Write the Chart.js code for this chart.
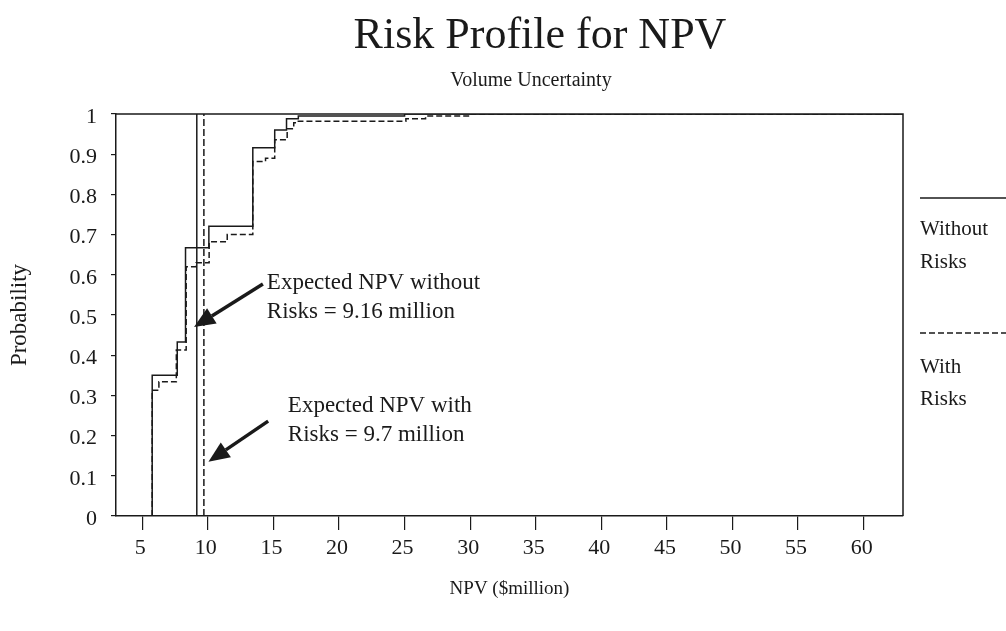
<!DOCTYPE html>
<html>
<head>
<meta charset="utf-8">
<title>Risk Profile for NPV</title>
<script src="https://cdn.jsdelivr.net/npm/chart.js@4.4.1/dist/chart.umd.min.js"></script>
<style>
    html, body { margin: 0; padding: 0; background: #fff; }
    canvas { display: block; }
</style>
</head>
<body>
<canvas id="riskChart" width="1006" height="631"></canvas>
<script>
// cumulative probability steps, NPV in $million
const withoutRiskNpv = [5.76, 5.76, 7.67, 8.3, 10.08, 13.43, 15.1, 16.0, 16.9, 25.0, 63]
const withoutRiskProb = [0, 0.35, 0.433, 0.667, 0.721, 0.916, 0.96, 0.988, 0.995, 1.0, 1.0]

const withRiskNpv = [5.76, 5.76, 6.27, 7.6, 8.35, 9.1, 10.1, 11.48, 13.43, 14.4, 15.1, 16.05, 16.55, 16.9, 25.1, 26.6, 30.0, 63]
const withRiskProb = [0, 0.313, 0.334, 0.413, 0.62, 0.63, 0.682, 0.70, 0.882, 0.89, 0.936, 0.963, 0.978, 0.982, 0.988, 0.995, 1.0, 1.0]

// expected values
const expectedWithout = 9.16
const expectedWith = 9.7

const npvTicks = [5, 10, 15, 20, 25, 30, 35, 40, 45, 50, 55, 60]
const probTicks = [0, 0.1, 0.2, 0.3, 0.4, 0.5, 0.6, 0.7, 0.8, 0.9, 1]

const serif = '"Liberation Serif", "Times New Roman", serif'
const ink = '#1a1a1a'

function toPoints(xs, ys) {
    return xs.map((x, i) => ({ x: x, y: ys[i] }))
}

// frame, titles, notes with arrows and the side legend
const decorations = {
    id: 'decorations',
    afterDraw(chart) {
        const ctx = chart.ctx
        const area = chart.chartArea
        const xs = chart.scales.x
        const ys = chart.scales.y

        ctx.save()
        ctx.strokeStyle = ink
        ctx.lineWidth = 1.5
        ctx.beginPath()
        ctx.moveTo(area.left, area.top)
        ctx.lineTo(area.right, area.top)
        ctx.lineTo(area.right, area.bottom)
        ctx.stroke()

        ctx.fillStyle = ink
        ctx.textAlign = 'center'
        ctx.textBaseline = 'middle'
        ctx.font = '44px ' + serif
        ctx.fillText('Risk Profile for NPV', 540, 36)
        ctx.font = '20px ' + serif
        ctx.fillText('Volume Uncertainty', 531, 81)

        // notes
        ctx.textAlign = 'left'
        ctx.font = '23px ' + serif
        const notes = [
            { lines: ['Expected NPV without', 'Risks = 9.16 million'], x: 14.5, y: 0.58, tail: [14.2, 0.577], tip: [8.95, 0.47] },
            { lines: ['Expected NPV with', 'Risks = 9.7 million'], x: 16.1, y: 0.274, tail: [14.6, 0.236], tip: [10.05, 0.135] }
        ]
        notes.forEach(n => {
            const tx = xs.getPixelForValue(n.x)
            const ty = ys.getPixelForValue(n.y)
            n.lines.forEach((line, i) => ctx.fillText(line, tx, ty + i * 29))

            const x0 = xs.getPixelForValue(n.tail[0])
            const y0 = ys.getPixelForValue(n.tail[1])
            const x1 = xs.getPixelForValue(n.tip[0])
            const y1 = ys.getPixelForValue(n.tip[1])
            const ang = Math.atan2(y1 - y0, x1 - x0)
            const head = 21
            const bx = x1 - head * Math.cos(ang)
            const by = y1 - head * Math.sin(ang)
            ctx.lineWidth = 3.5
            ctx.beginPath()
            ctx.moveTo(x0, y0)
            ctx.lineTo(bx, by)
            ctx.stroke()
            ctx.beginPath()
            ctx.moveTo(x1, y1)
            ctx.lineTo(bx + 9 * Math.sin(ang), by - 9 * Math.cos(ang))
            ctx.lineTo(bx - 9 * Math.sin(ang), by + 9 * Math.cos(ang))
            ctx.closePath()
            ctx.fill()
        })

        // legend on the right
        ctx.lineWidth = 1.5
        ctx.font = '21px ' + serif
        ctx.beginPath()
        ctx.moveTo(920, 198)
        ctx.lineTo(1006, 198)
        ctx.stroke()
        ctx.fillText('Without', 920, 229)
        ctx.fillText('Risks', 920, 262)
        ctx.setLineDash([6, 3])
        ctx.beginPath()
        ctx.moveTo(920, 333)
        ctx.lineTo(1006, 333)
        ctx.stroke()
        ctx.setLineDash([])
        ctx.fillText('With', 920, 367)
        ctx.fillText('Risks', 920, 399)
        ctx.restore()
    }
}

const lineBase = {
    borderColor: ink,
    borderWidth: 1.5,
    pointRadius: 0,
    fill: false
}

new Chart(document.getElementById('riskChart'), {
    type: 'line',
    data: {
        datasets: [
            { ...lineBase, label: 'Without Risks', data: toPoints(withoutRiskNpv, withoutRiskProb), stepped: 'before' },
            { ...lineBase, label: 'With Risks', data: toPoints(withRiskNpv, withRiskProb), stepped: 'before', borderDash: [6, 3] },
            { ...lineBase, label: 'Expected without', data: toPoints([expectedWithout, expectedWithout], [0, 1]) },
            { ...lineBase, label: 'Expected with', data: toPoints([expectedWith, expectedWith], [0, 1]), borderDash: [7, 3] }
        ]
    },
    options: {
        responsive: false,
        animation: false,
        devicePixelRatio: 1,
        layout: { padding: { top: 114, right: 103, left: 0, bottom: 0 } },
        plugins: {
            legend: { display: false },
            tooltip: { enabled: false }
        },
        scales: {
            x: {
                type: 'linear',
                min: 3,
                max: 63,
                afterBuildTicks: scale => { scale.ticks = npvTicks.map(v => ({ value: v })) },
                afterFit: scale => { scale.height = 115 },
                ticks: { color: ink, padding: 5, labelOffset: -2, font: { family: serif, size: 22 } },
                grid: { drawOnChartArea: false, color: ink, tickLength: 14, lineWidth: 1.2 },
                border: { color: ink, width: 1.5 },
                title: { display: true, text: 'NPV ($million)', color: ink, font: { family: serif, size: 19 }, padding: { top: 0, bottom: 31 } }
            },
            y: {
                min: 0,
                max: 1,
                afterBuildTicks: scale => { scale.ticks = probTicks.map(v => ({ value: v })) },
                afterFit: scale => { scale.width = 116 },
                ticks: { color: ink, padding: 14, labelOffset: 3, font: { family: serif, size: 22 }, callback: v => String(v) },
                grid: { drawOnChartArea: false, color: ink, tickLength: 5, lineWidth: 1.2 },
                border: { color: ink, width: 1.5 },
                title: { display: true, text: 'Probability', color: ink, font: { family: serif, size: 23 }, padding: { top: 6, bottom: 0 } }
            }
        }
    },
    plugins: [decorations]
})
</script>
</body>
</html>
